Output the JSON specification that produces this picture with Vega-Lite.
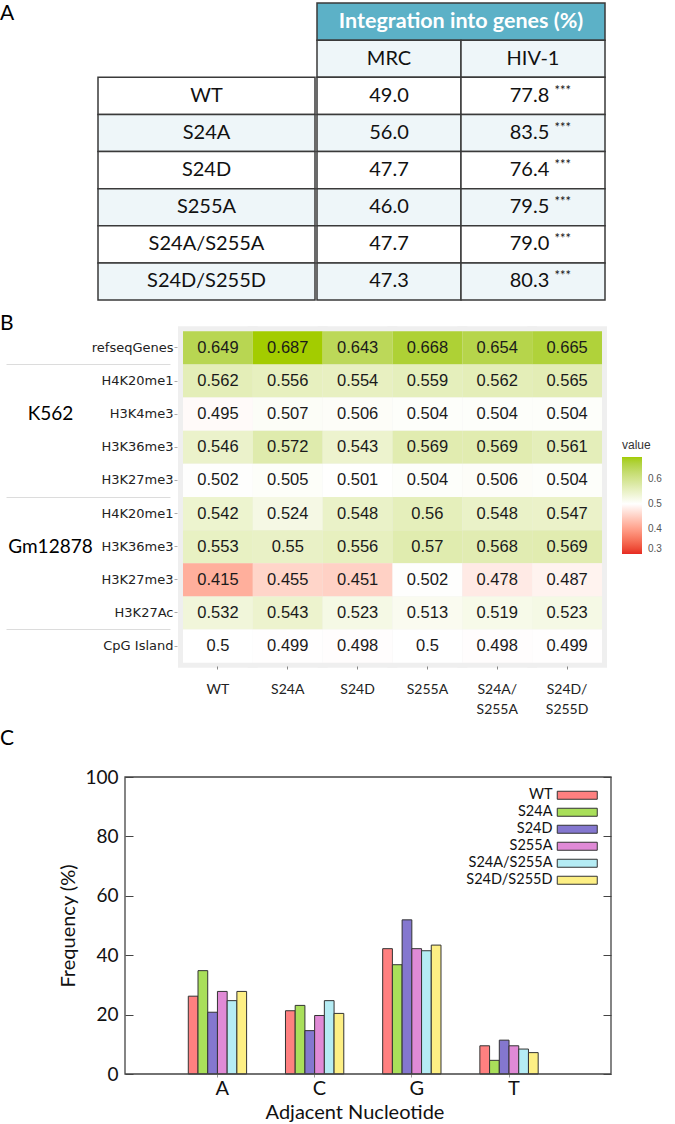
{
  "$schema": "https://vega.github.io/schema/vega-lite/v6.json",
  "padding": {"left": 0, "top": 2, "right": 0, "bottom": 0},
  "background": "white",
  "config": {
    "font": "Lato",
    "view": {"stroke": null},
    "axis": {"labelFont": "Lato", "titleFont": "Lato"}
  },
  "datasets": {
    "integration": [
      {"row": "WT", "vector": "MRC", "pct": 49.0},
      {"row": "WT", "vector": "HIV-1", "pct": 77.8, "sig": "***"},
      {"row": "S24A", "vector": "MRC", "pct": 56.0},
      {"row": "S24A", "vector": "HIV-1", "pct": 83.5, "sig": "***"},
      {"row": "S24D", "vector": "MRC", "pct": 47.7},
      {"row": "S24D", "vector": "HIV-1", "pct": 76.4, "sig": "***"},
      {"row": "S255A", "vector": "MRC", "pct": 46.0},
      {"row": "S255A", "vector": "HIV-1", "pct": 79.5, "sig": "***"},
      {"row": "S24A/S255A", "vector": "MRC", "pct": 47.7},
      {"row": "S24A/S255A", "vector": "HIV-1", "pct": 79.0, "sig": "***"},
      {"row": "S24D/S255D", "vector": "MRC", "pct": 47.3},
      {"row": "S24D/S255D", "vector": "HIV-1", "pct": 80.3, "sig": "***"}
    ],
    "heat": [
      {"track": "refseqGenes", "mutant": "WT", "value": 0.649},
      {"track": "refseqGenes", "mutant": "S24A", "value": 0.687},
      {"track": "refseqGenes", "mutant": "S24D", "value": 0.643},
      {"track": "refseqGenes", "mutant": "S255A", "value": 0.668},
      {"track": "refseqGenes", "mutant": "S24A/S255A", "value": 0.654},
      {"track": "refseqGenes", "mutant": "S24D/S255D", "value": 0.665},
      {"track": "K562:H4K20me1", "mutant": "WT", "value": 0.562},
      {"track": "K562:H4K20me1", "mutant": "S24A", "value": 0.556},
      {"track": "K562:H4K20me1", "mutant": "S24D", "value": 0.554},
      {"track": "K562:H4K20me1", "mutant": "S255A", "value": 0.559},
      {"track": "K562:H4K20me1", "mutant": "S24A/S255A", "value": 0.562},
      {"track": "K562:H4K20me1", "mutant": "S24D/S255D", "value": 0.565},
      {"track": "K562:H3K4me3", "mutant": "WT", "value": 0.495},
      {"track": "K562:H3K4me3", "mutant": "S24A", "value": 0.507},
      {"track": "K562:H3K4me3", "mutant": "S24D", "value": 0.506},
      {"track": "K562:H3K4me3", "mutant": "S255A", "value": 0.504},
      {"track": "K562:H3K4me3", "mutant": "S24A/S255A", "value": 0.504},
      {"track": "K562:H3K4me3", "mutant": "S24D/S255D", "value": 0.504},
      {"track": "K562:H3K36me3", "mutant": "WT", "value": 0.546},
      {"track": "K562:H3K36me3", "mutant": "S24A", "value": 0.572},
      {"track": "K562:H3K36me3", "mutant": "S24D", "value": 0.543},
      {"track": "K562:H3K36me3", "mutant": "S255A", "value": 0.569},
      {"track": "K562:H3K36me3", "mutant": "S24A/S255A", "value": 0.569},
      {"track": "K562:H3K36me3", "mutant": "S24D/S255D", "value": 0.561},
      {"track": "K562:H3K27me3", "mutant": "WT", "value": 0.502},
      {"track": "K562:H3K27me3", "mutant": "S24A", "value": 0.505},
      {"track": "K562:H3K27me3", "mutant": "S24D", "value": 0.501},
      {"track": "K562:H3K27me3", "mutant": "S255A", "value": 0.504},
      {"track": "K562:H3K27me3", "mutant": "S24A/S255A", "value": 0.506},
      {"track": "K562:H3K27me3", "mutant": "S24D/S255D", "value": 0.504},
      {"track": "Gm12878:H4K20me1", "mutant": "WT", "value": 0.542},
      {"track": "Gm12878:H4K20me1", "mutant": "S24A", "value": 0.524},
      {"track": "Gm12878:H4K20me1", "mutant": "S24D", "value": 0.548},
      {"track": "Gm12878:H4K20me1", "mutant": "S255A", "value": 0.56},
      {"track": "Gm12878:H4K20me1", "mutant": "S24A/S255A", "value": 0.548},
      {"track": "Gm12878:H4K20me1", "mutant": "S24D/S255D", "value": 0.547},
      {"track": "Gm12878:H3K36me3", "mutant": "WT", "value": 0.553},
      {"track": "Gm12878:H3K36me3", "mutant": "S24A", "value": 0.55},
      {"track": "Gm12878:H3K36me3", "mutant": "S24D", "value": 0.556},
      {"track": "Gm12878:H3K36me3", "mutant": "S255A", "value": 0.57},
      {"track": "Gm12878:H3K36me3", "mutant": "S24A/S255A", "value": 0.568},
      {"track": "Gm12878:H3K36me3", "mutant": "S24D/S255D", "value": 0.569},
      {"track": "Gm12878:H3K27me3", "mutant": "WT", "value": 0.415},
      {"track": "Gm12878:H3K27me3", "mutant": "S24A", "value": 0.455},
      {"track": "Gm12878:H3K27me3", "mutant": "S24D", "value": 0.451},
      {"track": "Gm12878:H3K27me3", "mutant": "S255A", "value": 0.502},
      {"track": "Gm12878:H3K27me3", "mutant": "S24A/S255A", "value": 0.478},
      {"track": "Gm12878:H3K27me3", "mutant": "S24D/S255D", "value": 0.487},
      {"track": "Gm12878:H3K27Ac", "mutant": "WT", "value": 0.532},
      {"track": "Gm12878:H3K27Ac", "mutant": "S24A", "value": 0.543},
      {"track": "Gm12878:H3K27Ac", "mutant": "S24D", "value": 0.523},
      {"track": "Gm12878:H3K27Ac", "mutant": "S255A", "value": 0.513},
      {"track": "Gm12878:H3K27Ac", "mutant": "S24A/S255A", "value": 0.519},
      {"track": "Gm12878:H3K27Ac", "mutant": "S24D/S255D", "value": 0.523},
      {"track": "CpG Island", "mutant": "WT", "value": 0.5},
      {"track": "CpG Island", "mutant": "S24A", "value": 0.499},
      {"track": "CpG Island", "mutant": "S24D", "value": 0.498},
      {"track": "CpG Island", "mutant": "S255A", "value": 0.5},
      {"track": "CpG Island", "mutant": "S24A/S255A", "value": 0.498},
      {"track": "CpG Island", "mutant": "S24D/S255D", "value": 0.499}
    ],
    "adjacent": [
      {"nt": "A", "mutant": "WT", "freq": 26.2},
      {"nt": "A", "mutant": "S24A", "freq": 34.8},
      {"nt": "A", "mutant": "S24D", "freq": 20.8},
      {"nt": "A", "mutant": "S255A", "freq": 27.8},
      {"nt": "A", "mutant": "S24A/S255A", "freq": 24.7},
      {"nt": "A", "mutant": "S24D/S255D", "freq": 27.8},
      {"nt": "C", "mutant": "WT", "freq": 21.3},
      {"nt": "C", "mutant": "S24A", "freq": 23.1},
      {"nt": "C", "mutant": "S24D", "freq": 14.6},
      {"nt": "C", "mutant": "S255A", "freq": 19.7},
      {"nt": "C", "mutant": "S24A/S255A", "freq": 24.7},
      {"nt": "C", "mutant": "S24D/S255D", "freq": 20.4},
      {"nt": "G", "mutant": "WT", "freq": 42.2},
      {"nt": "G", "mutant": "S24A", "freq": 36.8},
      {"nt": "G", "mutant": "S24D", "freq": 51.9},
      {"nt": "G", "mutant": "S255A", "freq": 42.2},
      {"nt": "G", "mutant": "S24A/S255A", "freq": 41.5},
      {"nt": "G", "mutant": "S24D/S255D", "freq": 43.4},
      {"nt": "T", "mutant": "WT", "freq": 9.5},
      {"nt": "T", "mutant": "S24A", "freq": 4.6},
      {"nt": "T", "mutant": "S24D", "freq": 11.4},
      {"nt": "T", "mutant": "S255A", "freq": 9.5},
      {"nt": "T", "mutant": "S24A/S255A", "freq": 8.4},
      {"nt": "T", "mutant": "S24D/S255D", "freq": 7.2}
    ]
  },
  "spacing": 12,
  "align": "none",
  "vconcat": [
    {
      "spacing": 0,
      "hconcat": [
        {
          "title": {"text": "A", "anchor": "start", "frame": "group", "baseline": "top", "dx": -98, "offset": -21, "font": "Lato", "fontSize": 21, "fontWeight": "normal", "color": "black"},
          "width": 217,
          "height": 297,
          "data": {"name": "integration"},
          "transform": [{"filter": "datum.vector == 'MRC'"}],
          "layer": [
            {
              "mark": {"type": "rect", "stroke": "#3a3a3a", "strokeWidth": 1.5},
              "encoding": {
                "y": {"field": "row", "type": "nominal", "scale": {"type": "band", "domain": ["hdr", "sub", "WT", "S24A", "S24D", "S255A", "S24A/S255A", "S24D/S255D"], "paddingInner": 0, "paddingOuter": 0}, "axis": null},
                "fill": {"condition": {"test": "indexof(['S24A','S255A','S24D/S255D'], datum.row) >= 0", "value": "#eef6f9"}, "value": "#ffffff"}
              }
            },
            {
              "mark": {"type": "text", "fontSize": 20, "font": "Lato", "color": "#111111"},
              "encoding": {
                "y": {"field": "row", "type": "nominal", "axis": null},
                "text": {"field": "row"}
              }
            }
          ]
        },
        {
          "width": 288,
          "height": 297,
          "layer": [
            {
              "data": {"values": [{"row": "hdr", "label": "Integration into genes (%)"}]},
              "mark": {"type": "rect", "fill": "#5cb1c7", "stroke": "#3a3a3a", "strokeWidth": 1.5},
              "encoding": {
                "y": {"field": "row", "type": "nominal", "scale": {"type": "band", "domain": ["hdr", "sub", "WT", "S24A", "S24D", "S255A", "S24A/S255A", "S24D/S255D"], "paddingInner": 0, "paddingOuter": 0}, "axis": null}
              }
            },
            {
              "data": {"values": [{"row": "hdr", "label": "Integration into genes (%)"}]},
              "mark": {"type": "text", "fontSize": 21.5, "font": "Lato", "fontWeight": "bold", "color": "#ffffff"},
              "encoding": {
                "y": {"field": "row", "type": "nominal", "axis": null},
                "text": {"field": "label"}
              }
            },
            {
              "data": {"values": [{"row": "sub", "vector": "MRC"}, {"row": "sub", "vector": "HIV-1"}]},
              "mark": {"type": "rect", "fill": "#eef6f9", "stroke": "#3a3a3a", "strokeWidth": 1.5},
              "encoding": {
                "x": {"field": "vector", "type": "nominal", "scale": {"type": "band", "domain": ["MRC", "HIV-1"], "paddingInner": 0, "paddingOuter": 0}, "axis": null},
                "y": {"field": "row", "type": "nominal", "axis": null}
              }
            },
            {
              "data": {"values": [{"row": "sub", "vector": "MRC"}, {"row": "sub", "vector": "HIV-1"}]},
              "mark": {"type": "text", "fontSize": 20, "font": "Lato", "color": "#111111"},
              "encoding": {
                "x": {"field": "vector", "type": "nominal", "axis": null},
                "y": {"field": "row", "type": "nominal", "axis": null},
                "text": {"field": "vector"}
              }
            },
            {
              "data": {"name": "integration"},
              "mark": {"type": "rect", "stroke": "#3a3a3a", "strokeWidth": 1.5},
              "encoding": {
                "x": {"field": "vector", "type": "nominal", "axis": null},
                "y": {"field": "row", "type": "nominal", "axis": null},
                "fill": {"condition": {"test": "indexof(['S24A','S255A','S24D/S255D'], datum.row) >= 0", "value": "#eef6f9"}, "value": "#ffffff"}
              }
            },
            {
              "data": {"name": "integration"},
              "transform": [{"filter": "datum.vector == 'MRC'"}],
              "mark": {"type": "text", "fontSize": 20, "font": "Lato", "color": "#111111"},
              "encoding": {
                "x": {"field": "vector", "type": "nominal", "axis": null},
                "y": {"field": "row", "type": "nominal", "axis": null},
                "text": {"field": "pct", "type": "quantitative", "format": ".1f"}
              }
            },
            {
              "data": {"name": "integration"},
              "transform": [{"filter": "datum.vector == 'HIV-1'"}],
              "mark": {"type": "text", "fontSize": 20, "font": "Lato", "color": "#111111", "dx": -3.5},
              "encoding": {
                "x": {"field": "vector", "type": "nominal", "axis": null},
                "y": {"field": "row", "type": "nominal", "axis": null},
                "text": {"field": "pct", "type": "quantitative", "format": ".1f"}
              }
            },
            {
              "data": {"name": "integration"},
              "transform": [{"filter": "datum.vector == 'HIV-1'"}],
              "mark": {"type": "text", "fontSize": 13, "font": "Lato", "color": "#111111", "align": "left", "dx": 21.5, "dy": -5},
              "encoding": {
                "x": {"field": "vector", "type": "nominal", "axis": null},
                "y": {"field": "row", "type": "nominal", "axis": null},
                "text": {"field": "sig"}
              }
            }
          ]
        }
      ]
    },
    {
      "title": {"text": "B", "anchor": "start", "frame": "group", "baseline": "top", "dx": -98, "offset": -8, "font": "Lato", "fontSize": 21, "fontWeight": "normal", "color": "black"},
      "width": 512,
      "height": 338,
      "data": {"name": "heat"},
      "resolve": {"axis": {"y": "independent"}},
      "layer": [
        {
          "mark": {"type": "rect", "fill": "#efefef", "stroke": "#efefef", "strokeWidth": 10},
          "encoding": {
            "x": {
              "field": "mutant", "type": "nominal",
              "scale": {"type": "band", "domain": ["WT", "S24A", "S24D", "S255A", "S24A/S255A", "S24D/S255D"], "paddingInner": 0, "paddingOuter": 0.666, "align": 0.914},
              "axis": {
                "title": null, "labelAngle": 0, "domain": false, "grid": false,
                "labelExpr": "indexof(datum.label, '/') > 0 ? [substring(datum.label, 0, indexof(datum.label, '/') + 1), substring(datum.label, indexof(datum.label, '/') + 1)] : datum.label",
                "labelFontSize": 14, "labelColor": "#222222", "labelLineHeight": 20, "labelPadding": 13,
                "tickSize": 3, "tickColor": "#888888"
              }
            },
            "y": {
              "field": "track", "type": "nominal",
              "scale": {"type": "band", "domain": ["refseqGenes", "K562:H4K20me1", "K562:H3K4me3", "K562:H3K36me3", "K562:H3K27me3", "Gm12878:H4K20me1", "Gm12878:H3K36me3", "Gm12878:H3K27me3", "Gm12878:H3K27Ac", "CpG Island"], "paddingInner": 0, "paddingOuter": 0.1},
              "axis": {
                "title": null, "orient": "left", "offset": -79, "domain": false,
                "labelExpr": "indexof(datum.label, ':') >= 0 ? substring(datum.label, indexof(datum.label, ':') + 1) : datum.label",
                "labelFont": "DejaVu Sans", "labelFontSize": 13, "labelColor": "#222222", "labelPadding": 1,
                "tickSize": 3, "tickColor": "#aaaaaa",
                "grid": true, "gridOpacity": 0
              }
            }
          }
        },
        {
          "mark": {"type": "rect"},
          "encoding": {
            "x": {"field": "mutant", "type": "nominal"},
            "y": {"field": "track", "type": "nominal", "axis": null},
            "color": {
              "field": "value", "type": "quantitative",
              "scale": {"domain": [0.3, 0.5, 0.687], "range": ["#e62a22", "#ffffff", "#a3cc00"], "interpolate": "lab"},
              "legend": {
                "orient": "none", "legendX": 524, "legendY": 112,
                "title": "value", "titleFont": "Liberation Sans", "titleFontSize": 12, "titleFontWeight": "normal", "titleColor": "#333333", "titlePadding": 5,
                "direction": "vertical", "gradientLength": 97, "gradientThickness": 20, "gradientStrokeWidth": 0,
                "values": [0.3, 0.4, 0.5, 0.6],
                "labelFont": "Liberation Sans", "labelFontSize": 10, "labelColor": "#555555", "labelOffset": 6
              }
            }
          }
        },
        {
          "mark": {"type": "text", "font": "Liberation Sans", "fontSize": 16.5, "color": "#1a1a1a"},
          "encoding": {
            "x": {"field": "mutant", "type": "nominal"},
            "y": {"field": "track", "type": "nominal", "axis": null},
            "text": {"field": "value", "type": "nominal"}
          }
        },
        {
          "mark": {"type": "text", "text": ""},
          "encoding": {
            "x": {"field": "mutant", "type": "nominal"},
            "y": {
              "field": "track", "type": "nominal",
              "axis": {
                "title": null, "orient": "left", "offset": -72, "labels": false, "domain": false, "grid": true, "gridOpacity": 0,
                "values": ["K562:H4K20me1", "Gm12878:H4K20me1", "CpG Island"],
                "bandPosition": 0, "tickSize": 164, "tickColor": "#dcdcdc", "tickWidth": 1
              }
            }
          }
        },
        {
          "mark": {"type": "text", "text": ""},
          "encoding": {
            "x": {"field": "mutant", "type": "nominal"},
            "y": {
              "field": "track", "type": "nominal",
              "axis": {
                "title": null, "orient": "left", "offset": 0, "ticks": false, "domain": false, "grid": true, "gridOpacity": 0,
                "values": ["K562:H3K4me3", "Gm12878:H3K36me3"],
                "bandPosition": 1,
                "labelExpr": "split(datum.value, ':')[0]",
                "labelAlign": "center", "labelPadding": 48, "labelFontSize": 19, "labelColor": "#000000"
              }
            }
          }
        }
      ]
    },
    {
      "title": {"text": "C", "anchor": "start", "frame": "group", "baseline": "top", "dx": -98, "offset": 19, "font": "Lato", "fontSize": 21, "fontWeight": "normal", "color": "black"},
      "width": 513,
      "height": 297,
      "data": {"name": "adjacent"},
      "transform": [{"calculate": "datum.nt + '|' + datum.mutant", "as": "key"}],
      "resolve": {"scale": {"x": "independent"}, "axis": {"y": "independent"}},
      "layer": [
        {
          "mark": {"type": "bar", "stroke": "#333333", "strokeWidth": 1},
          "encoding": {
            "x": {
              "field": "key", "type": "nominal",
              "scale": {"type": "band", "paddingInner": 0, "paddingOuter": 0.39, "align": 0.37, "domain": [
                "l1", "l2", "l3", "l4", "l5", "l6", "l7", "l8", "l9",
                "A|WT", "A|S24A", "A|S24D", "A|S255A", "A|S24A/S255A", "A|S24D/S255D",
                "g1", "g2", "g3", "g4",
                "C|WT", "C|S24A", "C|S24D", "C|S255A", "C|S24A/S255A", "C|S24D/S255D",
                "g5", "g6", "g7", "g8",
                "G|WT", "G|S24A", "G|S24D", "G|S255A", "G|S24A/S255A", "G|S24D/S255D",
                "g9", "g10", "g11", "g12",
                "T|WT", "T|S24A", "T|S24D", "T|S255A", "T|S24A/S255A", "T|S24D/S255D",
                "r1", "r2", "r3", "r4", "r5", "r6", "r7"
              ]},
              "axis": {
                "title": "Adjacent Nucleotide", "labelAngle": 0, "domain": false,
                "values": ["A|S255A", "C|S255A", "G|S255A", "T|S255A"], "bandPosition": 0,
                "labelExpr": "split(datum.value, '|')[0]",
                "labelFontSize": 20, "labelColor": "#111111", "labelPadding": 1, "tickSize": 3, "tickColor": "#999999",
                "titleFontSize": 20, "titleFontWeight": "normal", "titleColor": "#111111", "titlePadding": 4
              }
            },
            "y": {
              "field": "freq", "type": "quantitative",
              "scale": {"domain": [0, 100], "nice": false},
              "axis": {"title": "Frequency (%)", "orient": "left", "offset": -27, "values": [0, 20, 40, 60, 80, 100], "domain": false, "grid": true, "gridOpacity": 0, "tickSize": -8, "tickColor": "#444444", "labelPadding": 15, "labelFontSize": 19, "labelColor": "#111111", "titleFontSize": 20, "titleFontWeight": "normal", "titleColor": "#111111", "titlePadding": 6}
            },
            "color": {
              "field": "mutant", "type": "nominal",
              "scale": {"domain": ["WT", "S24A", "S24D", "S255A", "S24A/S255A", "S24D/S255D"], "range": ["#ff8080", "#a9df5a", "#8477cf", "#e08ad6", "#b5ecf4", "#fdef84"]},
              "legend": {
                "orient": "top-right", "title": null, "offset": 11, "padding": 0,
                "symbolType": "M-5,-1H5V1H-5Z", "symbolSize": 64, "symbolStrokeColor": "#333333", "symbolStrokeWidth": 1, "symbolOpacity": 1,
                "labelAlign": "right", "labelOffset": -32, "labelFontSize": 14.5, "labelFont": "Lato", "labelColor": "#111111", "rowPadding": 2
              }
            }
          }
        },
        {
          "mark": {"type": "text", "text": ""},
          "encoding": {
            "x": {"field": "key", "type": "nominal", "axis": null},
            "y": {
              "field": "freq", "type": "quantitative",
              "axis": {"title": null, "orient": "right", "labels": false, "domain": false, "grid": true, "gridOpacity": 0, "values": [0, 20, 40, 60, 80, 100], "tickSize": -8, "tickColor": "#444444"}
            }
          }
        },
        {
          "data": {"values": [{}]},
          "mark": {"type": "rect", "fill": "#ffffff", "fillOpacity": 0, "stroke": "#444444", "strokeWidth": 1.3},
          "encoding": {
            "x": {"datum": 0, "type": "quantitative", "scale": {"domain": [0, 1], "rangeMin": 27}, "axis": null},
            "x2": {"datum": 1},
            "y": {"datum": 0, "type": "quantitative", "axis": null},
            "y2": {"datum": 100}
          }
        }
      ]
    }
  ]
}
